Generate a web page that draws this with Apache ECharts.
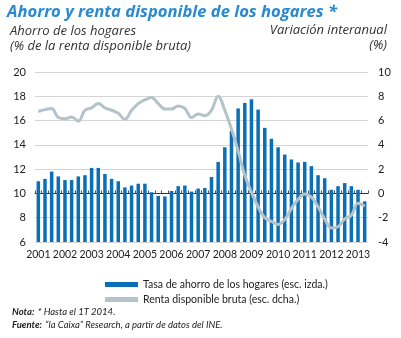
<!DOCTYPE html>
<html><head><meta charset="utf-8">
<script src="https://cdn.jsdelivr.net/npm/echarts@6/dist/echarts.min.js"></script>
<style>html,body{margin:0;padding:0;background:#fff}#c{width:401px;height:338px}</style>
</head><body><div id="c"></div>
<script>
// Quarters from 4T 2001 to 1T 2014 (year labels placed at 4T)
const quarters = [];
(function(){
  quarters.push('4T 2001');
  for (let y = 2002; y <= 2013; y++) for (let q = 1; q <= 4; q++) quarters.push(q + 'T ' + y);
  quarters.push('1T 2014');
})();
// Tasa de ahorro de los hogares (% RDB), esc. izda.
const ahorro = [11.0,11.2,11.8,11.4,11.1,11.1,11.4,11.5,12.1,12.1,11.6,11.2,11.0,10.5,10.65,10.8,
  10.8,10.1,9.8,9.75,10.2,10.6,10.65,10.15,10.4,10.45,11.35,12.6,13.8,15.15,17.0,17.45,17.75,16.9,
  15.4,14.5,13.8,13.2,12.8,12.55,12.6,12.25,11.5,11.25,10.3,10.6,10.85,10.6,10.3,9.35];
// Renta disponible bruta, variación interanual (%), esc. dcha.
const renta = [6.75,6.9,7.0,6.25,6.15,6.3,5.95,6.85,7.05,7.4,7.05,6.85,6.6,6.1,6.85,7.4,
  7.7,7.9,7.4,6.95,6.95,7.2,7.0,6.25,6.55,6.4,6.85,8.0,6.85,5.3,3.5,1.5,0.1,-1.1,
  -2.0,-2.3,-2.55,-2.15,-1.25,-0.5,-0.05,-0.3,-1.1,-2.1,-2.85,-2.75,-2.1,-1.8,-0.8,-1.05];
const leftTicks = {min: 6, max: 20, interval: 2};
const rightTicks = {min: -4, max: 10, interval: 2};

const FONT = 'Lato';
const chart = echarts.init(document.getElementById('c'));
chart.setOption({
  animation: false,
  textStyle: {fontFamily: FONT},
  graphic: [
    {type: 'text', left: 7, top: 4, style: {text: 'Ahorro y renta disponible de los hogares *',
      font: 'italic bold 16.6px "Open Sans"', fill: '#2a8ad0'}},
    {type: 'text', left: 10, top: 24, style: {text: 'Ahorro de los hogares\n(% de la renta disponible bruta)',
      font: 'italic 13px "Open Sans"', fill: '#333', lineHeight: 15}},
    {type: 'text', right: 14, top: 24, style: {text: 'Variación interanual',
      font: 'italic 13px "Open Sans"', fill: '#333'}},
    {type: 'text', right: 14, top: 39, style: {text: '(%)',
      font: 'italic 13px "Open Sans"', fill: '#333'}},
    {type: 'text', left: 12, top: 305, style: {
      text: '{b|Nota:} {i|* Hasta el 1T 2014.}\n{b|Fuente:} {i|“la Caixa” Research, a partir de datos del INE.}',
      fill: '#222', lineHeight: 13.5,
      rich: {b: {fontFamily: FONT, fontSize: 9.5, fontWeight: 'bold', fontStyle: 'italic', fill: '#222'},
             i: {fontFamily: FONT, fontSize: 9.5, fontStyle: 'italic', fill: '#222'}}}}
  ],
  legend: {
    orient: 'vertical', left: 100, top: 274, itemGap: 4, itemWidth: 33, itemHeight: 5,
    textStyle: {fontFamily: FONT, fontSize: 10.5, color: '#222'},
    data: [{name: 'Tasa de ahorro de los hogares (esc. izda.)', icon: 'rect'},
           {name: 'Renta disponible bruta (esc. dcha.)', icon: 'rect'}]
  },
  grid: {left: 35, right: 33, top: 72, bottom: 96},
  xAxis: {
    type: 'category', data: quarters, boundaryGap: true,
    axisLine: {lineStyle: {color: '#333', width: 1}},
    axisTick: {show: true, interval: 0, inside: true, length: 3, lineStyle: {color: '#555'}},
    axisLabel: {interval: 0, color: '#222', fontSize: 10.5, margin: 7,
      formatter: function(v, i){ return (i % 4 === 0) ? v.slice(-4) : ''; }},
    splitLine: {show: false}
  },
  yAxis: [
    {type: 'value', min: leftTicks.min, max: leftTicks.max, interval: leftTicks.interval,
     axisLine: {show: false}, axisTick: {show: false},
     axisLabel: {color: '#222', fontSize: 11, margin: 9},
     splitLine: {lineStyle: {color: '#d5d5d5', width: 1}}},
    {type: 'value', min: rightTicks.min, max: rightTicks.max, interval: rightTicks.interval,
     axisLine: {show: false}, axisTick: {show: false},
     axisLabel: {color: '#222', fontSize: 11, margin: 10},
     splitLine: {show: false}}
  ],
  series: [
    {name: 'Tasa de ahorro de los hogares (esc. izda.)', type: 'bar', data: ahorro, yAxisIndex: 0,
     barWidth: 3.5, itemStyle: {color: '#0b6fb6'}},
    {name: 'Renta disponible bruta (esc. dcha.)', type: 'line', data: renta, yAxisIndex: 1,
     smooth: 0.4, symbol: 'none', lineStyle: {color: '#b4c3c9', width: 3}, itemStyle: {color: '#b4c3c9'}}
  ]
});
</script></body></html>
